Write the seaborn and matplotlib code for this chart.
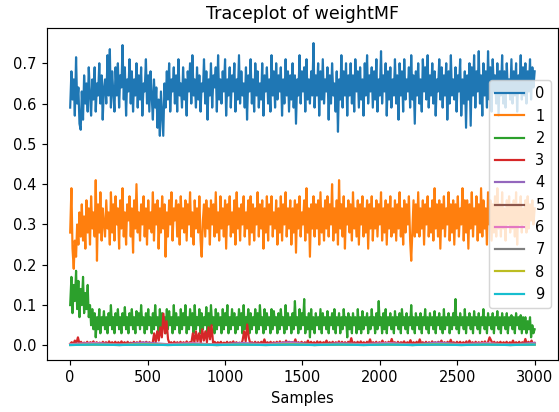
import numpy as np
import matplotlib
matplotlib.use("Agg")
import matplotlib.pyplot as plt
import seaborn as sns

# Posterior draws of weightMF, thinned (each row of ten spans ~75 samples)
weight_0 = [
    0.59, 0.68, 0.61, 0.66, 0.57, 0.715, 0.60, 0.64, 0.55, 0.535,
    0.63, 0.56, 0.67, 0.60, 0.65, 0.58, 0.69, 0.62, 0.57, 0.66,
    0.61, 0.69, 0.58, 0.65, 0.62, 0.70, 0.60, 0.67, 0.56, 0.64,
    0.66, 0.60, 0.72, 0.62, 0.735, 0.59, 0.68, 0.63, 0.58, 0.69,
    0.62, 0.70, 0.59, 0.67, 0.64, 0.745, 0.61, 0.69, 0.57, 0.66,
    0.63, 0.71, 0.60, 0.68, 0.58, 0.66, 0.62, 0.70, 0.59, 0.67,
    0.61, 0.69, 0.57, 0.65, 0.63, 0.71, 0.60, 0.67, 0.58, 0.68,
    0.62, 0.56, 0.66, 0.59, 0.64, 0.54, 0.61, 0.52, 0.63, 0.57,
    0.52, 0.65, 0.59, 0.68, 0.61, 0.70, 0.58, 0.66, 0.63, 0.69,
    0.60, 0.67, 0.58, 0.71, 0.62, 0.65, 0.59, 0.69, 0.61, 0.66,
    0.57, 0.68, 0.63, 0.70, 0.60, 0.72, 0.62, 0.66, 0.59, 0.69,
    0.61, 0.67, 0.58, 0.65, 0.63, 0.71, 0.60, 0.68, 0.56, 0.66,
    0.62, 0.70, 0.59, 0.67, 0.64, 0.69, 0.58, 0.72, 0.61, 0.66,
    0.60, 0.68, 0.63, 0.71, 0.57, 0.66, 0.62, 0.69, 0.59, 0.67,
    0.63, 0.70, 0.58, 0.66, 0.61, 0.72, 0.60, 0.68, 0.62, 0.65,
    0.59, 0.69, 0.56, 0.67, 0.63, 0.71, 0.60, 0.66, 0.58, 0.70,
    0.62, 0.68, 0.59, 0.65, 0.61, 0.70, 0.57, 0.67, 0.63, 0.69,
    0.60, 0.66, 0.58, 0.72, 0.62, 0.68, 0.59, 0.70, 0.61, 0.67,
    0.63, 0.69, 0.57, 0.66, 0.60, 0.71, 0.62, 0.68, 0.58, 0.67,
    0.61, 0.70, 0.59, 0.67, 0.55, 0.66, 0.62, 0.72, 0.60, 0.68,
    0.63, 0.69, 0.58, 0.71, 0.61, 0.66, 0.60, 0.68, 0.62, 0.75,
    0.59, 0.67, 0.62, 0.70, 0.57, 0.68, 0.61, 0.71, 0.60, 0.66,
    0.63, 0.69, 0.56, 0.67, 0.60, 0.70, 0.62, 0.65, 0.58, 0.68,
    0.53, 0.66, 0.61, 0.72, 0.59, 0.68, 0.62, 0.70, 0.57, 0.67,
    0.62, 0.70, 0.60, 0.67, 0.58, 0.71, 0.63, 0.68, 0.59, 0.69,
    0.61, 0.66, 0.57, 0.70, 0.62, 0.72, 0.60, 0.67, 0.63, 0.69,
    0.59, 0.68, 0.61, 0.71, 0.58, 0.66, 0.62, 0.73, 0.60, 0.67,
    0.63, 0.70, 0.57, 0.68, 0.61, 0.69, 0.59, 0.66, 0.62, 0.71,
    0.60, 0.67, 0.56, 0.70, 0.62, 0.68, 0.58, 0.71, 0.61, 0.66,
    0.63, 0.69, 0.59, 0.72, 0.61, 0.67, 0.55, 0.68, 0.62, 0.70,
    0.60, 0.66, 0.58, 0.71, 0.63, 0.69, 0.61, 0.72, 0.59, 0.67,
    0.62, 0.70, 0.60, 0.68, 0.57, 0.66, 0.63, 0.71, 0.61, 0.69,
    0.59, 0.67, 0.62, 0.70, 0.56, 0.68, 0.60, 0.72, 0.62, 0.66,
    0.61, 0.69, 0.58, 0.67, 0.63, 0.71, 0.57, 0.66, 0.60, 0.68,
    0.54, 0.67, 0.61, 0.70, 0.545, 0.69, 0.62, 0.72, 0.59, 0.68,
    0.63, 0.73, 0.60, 0.67, 0.57, 0.70, 0.62, 0.68, 0.59, 0.73,
    0.61, 0.69, 0.58, 0.71, 0.63, 0.67, 0.60, 0.70, 0.57, 0.68,
    0.62, 0.72, 0.60, 0.68, 0.59, 0.70, 0.63, 0.66, 0.61, 0.71,
    0.60, 0.68, 0.62, 0.70, 0.58, 0.67, 0.63, 0.72, 0.61, 0.69,
    0.62, 0.70, 0.60, 0.68, 0.63, 0.71, 0.61, 0.69, 0.64, 0.68,
]

weight_1 = [
    0.28, 0.39, 0.24, 0.19, 0.26, 0.22, 0.30, 0.25, 0.33, 0.27,
    0.35, 0.26, 0.32, 0.24, 0.36, 0.28, 0.34, 0.25, 0.37, 0.29,
    0.33, 0.27, 0.41, 0.21, 0.35, 0.28, 0.38, 0.26, 0.34, 0.30,
    0.27, 0.36, 0.29, 0.33, 0.25, 0.38, 0.28, 0.35, 0.26, 0.37,
    0.30, 0.34, 0.24, 0.36, 0.29, 0.39, 0.27, 0.33, 0.25, 0.35,
    0.31, 0.37, 0.27, 0.34, 0.23, 0.36, 0.29, 0.40, 0.28, 0.33,
    0.26, 0.35, 0.30, 0.37, 0.27, 0.34, 0.25, 0.36, 0.29, 0.33,
    0.28, 0.38, 0.26, 0.35, 0.30, 0.36, 0.24, 0.34, 0.28, 0.37,
    0.29, 0.35, 0.22, 0.33, 0.27, 0.36, 0.30, 0.38, 0.26, 0.34,
    0.31, 0.36, 0.27, 0.35, 0.25, 0.37, 0.29, 0.34, 0.28, 0.36,
    0.26, 0.35, 0.30, 0.38, 0.27, 0.33, 0.25, 0.36, 0.29, 0.34,
    0.28, 0.37, 0.26, 0.22, 0.31, 0.35, 0.27, 0.36, 0.29, 0.34,
    0.25, 0.36, 0.30, 0.35, 0.27, 0.38, 0.28, 0.33, 0.26, 0.37,
    0.29, 0.34, 0.27, 0.36, 0.24, 0.35, 0.30, 0.37, 0.27, 0.33,
    0.28, 0.36, 0.25, 0.38, 0.29, 0.34, 0.26, 0.35, 0.30, 0.37,
    0.27, 0.33, 0.29, 0.36, 0.25, 0.37, 0.28, 0.35, 0.26, 0.34,
    0.30, 0.38, 0.27, 0.35, 0.29, 0.36, 0.24, 0.34, 0.28, 0.37,
    0.26, 0.35, 0.30, 0.37, 0.27, 0.33, 0.29, 0.36, 0.25, 0.34,
    0.28, 0.37, 0.26, 0.35, 0.30, 0.38, 0.27, 0.34, 0.29, 0.36,
    0.25, 0.34, 0.28, 0.36, 0.23, 0.35, 0.29, 0.37, 0.27, 0.33,
    0.30, 0.36, 0.26, 0.39, 0.28, 0.34, 0.22, 0.35, 0.29, 0.37,
    0.27, 0.35, 0.29, 0.36, 0.25, 0.38, 0.28, 0.34, 0.26, 0.36,
    0.29, 0.37, 0.27, 0.35, 0.30, 0.40, 0.26, 0.34, 0.28, 0.36,
    0.25, 0.41, 0.29, 0.35, 0.27, 0.37, 0.24, 0.34, 0.30, 0.36,
    0.28, 0.35, 0.26, 0.38, 0.29, 0.34, 0.27, 0.36, 0.25, 0.35,
    0.30, 0.37, 0.27, 0.34, 0.28, 0.36, 0.24, 0.35, 0.29, 0.37,
    0.26, 0.34, 0.29, 0.36, 0.27, 0.35, 0.30, 0.38, 0.26, 0.34,
    0.28, 0.36, 0.25, 0.35, 0.29, 0.37, 0.27, 0.34, 0.28, 0.36,
    0.26, 0.35, 0.29, 0.38, 0.27, 0.34, 0.25, 0.36, 0.28, 0.35,
    0.30, 0.37, 0.26, 0.21, 0.29, 0.36, 0.27, 0.35, 0.28, 0.38,
    0.27, 0.34, 0.29, 0.36, 0.25, 0.35, 0.30, 0.37, 0.27, 0.34,
    0.28, 0.36, 0.26, 0.39, 0.29, 0.35, 0.27, 0.36, 0.24, 0.35,
    0.29, 0.37, 0.27, 0.34, 0.30, 0.38, 0.26, 0.35, 0.28, 0.36,
    0.25, 0.35, 0.29, 0.37, 0.27, 0.34, 0.30, 0.39, 0.26, 0.36,
    0.28, 0.36, 0.24, 0.35, 0.29, 0.38, 0.27, 0.34, 0.30, 0.37,
    0.26, 0.35, 0.28, 0.39, 0.27, 0.36, 0.29, 0.34, 0.25, 0.38,
    0.30, 0.36, 0.26, 0.35, 0.28, 0.37, 0.27, 0.39, 0.29, 0.35,
    0.27, 0.38, 0.29, 0.34, 0.26, 0.36, 0.30, 0.37, 0.28, 0.35,
    0.29, 0.36, 0.27, 0.38, 0.25, 0.35, 0.30, 0.37, 0.28, 0.34,
    0.30, 0.36, 0.28, 0.37, 0.29, 0.35, 0.31, 0.36, 0.30, 0.34,
]

weight_2 = [
    0.10, 0.17, 0.08, 0.15, 0.11, 0.185, 0.09, 0.16, 0.07, 0.14,
    0.10, 0.17, 0.08, 0.13, 0.09, 0.15, 0.07, 0.10, 0.05, 0.09,
    0.04, 0.08, 0.02, 0.07, 0.04, 0.09, 0.03, 0.07, 0.05, 0.085,
    0.04, 0.07, 0.03, 0.08, 0.05, 0.10, 0.04, 0.07, 0.03, 0.08,
    0.05, 0.09, 0.04, 0.07, 0.03, 0.08, 0.05, 0.095, 0.04, 0.07,
    0.03, 0.08, 0.05, 0.09, 0.04, 0.07, 0.03, 0.085, 0.05, 0.08,
    0.04, 0.10, 0.05, 0.07, 0.03, 0.08, 0.04, 0.09, 0.05, 0.07,
    0.03, 0.08, 0.04, 0.10, 0.05, 0.07, 0.03, 0.09, 0.04, 0.08,
    0.05, 0.07, 0.03, 0.09, 0.04, 0.085, 0.05, 0.07, 0.03, 0.10,
    0.04, 0.08, 0.05, 0.07, 0.03, 0.09, 0.04, 0.08, 0.05, 0.10,
    0.03, 0.07, 0.04, 0.09, 0.05, 0.08, 0.03, 0.10, 0.04, 0.07,
    0.05, 0.09, 0.03, 0.08, 0.04, 0.07, 0.05, 0.095, 0.03, 0.08,
    0.04, 0.10, 0.05, 0.07, 0.03, 0.09, 0.04, 0.08, 0.05, 0.07,
    0.03, 0.09, 0.04, 0.08, 0.05, 0.10, 0.03, 0.07, 0.04, 0.09,
    0.05, 0.08, 0.03, 0.07, 0.04, 0.09, 0.05, 0.08, 0.03, 0.10,
    0.04, 0.07, 0.05, 0.09, 0.03, 0.08, 0.04, 0.07, 0.05, 0.09,
    0.03, 0.08, 0.04, 0.10, 0.05, 0.07, 0.03, 0.09, 0.04, 0.08,
    0.05, 0.07, 0.03, 0.09, 0.04, 0.085, 0.05, 0.07, 0.03, 0.08,
    0.04, 0.09, 0.05, 0.07, 0.03, 0.10, 0.04, 0.08, 0.05, 0.07,
    0.03, 0.08, 0.04, 0.11, 0.05, 0.07, 0.03, 0.09, 0.04, 0.08,
    0.05, 0.115, 0.03, 0.07, 0.04, 0.08, 0.02, 0.09, 0.04, 0.07,
    0.03, 0.08, 0.05, 0.07, 0.04, 0.09, 0.03, 0.08, 0.05, 0.07,
    0.04, 0.085, 0.03, 0.07, 0.05, 0.08, 0.04, 0.09, 0.03, 0.07,
    0.05, 0.08, 0.03, 0.07, 0.04, 0.09, 0.05, 0.07, 0.02, 0.08,
    0.04, 0.07, 0.03, 0.08, 0.05, 0.07, 0.03, 0.09, 0.04, 0.07,
    0.03, 0.085, 0.04, 0.07, 0.05, 0.08, 0.03, 0.07, 0.04, 0.09,
    0.05, 0.07, 0.03, 0.08, 0.04, 0.11, 0.05, 0.07, 0.03, 0.08,
    0.04, 0.09, 0.03, 0.07, 0.05, 0.08, 0.04, 0.07, 0.03, 0.085,
    0.05, 0.07, 0.04, 0.08, 0.03, 0.09, 0.05, 0.07, 0.04, 0.08,
    0.03, 0.07, 0.05, 0.10, 0.04, 0.07, 0.03, 0.08, 0.05, 0.07,
    0.04, 0.08, 0.03, 0.07, 0.05, 0.09, 0.04, 0.07, 0.03, 0.08,
    0.05, 0.07, 0.04, 0.085, 0.03, 0.07, 0.05, 0.08, 0.04, 0.07,
    0.03, 0.09, 0.04, 0.07, 0.05, 0.08, 0.03, 0.07, 0.04, 0.08,
    0.05, 0.115, 0.04, 0.07, 0.03, 0.08, 0.05, 0.07, 0.04, 0.09,
    0.03, 0.07, 0.05, 0.08, 0.04, 0.07, 0.03, 0.085, 0.05, 0.07,
    0.04, 0.08, 0.03, 0.07, 0.05, 0.09, 0.04, 0.07, 0.03, 0.08,
    0.05, 0.07, 0.04, 0.08, 0.03, 0.07, 0.05, 0.085, 0.04, 0.07,
    0.03, 0.08, 0.05, 0.07, 0.04, 0.08, 0.03, 0.07, 0.05, 0.075,
    0.04, 0.07, 0.03, 0.08, 0.05, 0.07, 0.04, 0.075, 0.03, 0.07,
    0.04, 0.07, 0.03, 0.06, 0.04, 0.07, 0.02, 0.05, 0.03, 0.04,
]

weight_3 = [
    0.004, 0.008, 0.003, 0.012, 0.005, 0.02, 0.004, 0.009, 0.003, 0.007,
    0.004, 0.009, 0.003, 0.008, 0.005, 0.01, 0.003, 0.008, 0.004, 0.007,
    0.003, 0.009, 0.004, 0.008, 0.003, 0.01, 0.004, 0.008, 0.003, 0.009,
    0.004, 0.008, 0.003, 0.01, 0.004, 0.008, 0.003, 0.009, 0.004, 0.007,
    0.003, 0.009, 0.004, 0.008, 0.003, 0.01, 0.004, 0.008, 0.003, 0.009,
    0.004, 0.008, 0.003, 0.005, 0.03, 0.008, 0.035, 0.012, 0.045, 0.02,
    0.079, 0.03, 0.06, 0.015, 0.004, 0.008, 0.003, 0.009, 0.004, 0.008,
    0.003, 0.009, 0.004, 0.008, 0.003, 0.01, 0.004, 0.008, 0.005, 0.03,
    0.008, 0.035, 0.01, 0.03, 0.006, 0.04, 0.012, 0.035, 0.008, 0.045,
    0.015, 0.05, 0.004, 0.009, 0.003, 0.008, 0.004, 0.009, 0.003, 0.007,
    0.004, 0.009, 0.003, 0.008, 0.005, 0.01, 0.003, 0.008, 0.004, 0.007,
    0.003, 0.012, 0.035, 0.01, 0.052, 0.02, 0.004, 0.008, 0.003, 0.009,
    0.004, 0.008, 0.003, 0.009, 0.004, 0.015, 0.003, 0.008, 0.004, 0.009,
    0.003, 0.008, 0.004, 0.009, 0.003, 0.01, 0.004, 0.008, 0.003, 0.012,
    0.004, 0.009, 0.003, 0.008, 0.004, 0.015, 0.003, 0.008, 0.004, 0.009,
    0.003, 0.008, 0.004, 0.012, 0.003, 0.009, 0.004, 0.008, 0.003, 0.01,
    0.004, 0.009, 0.003, 0.008, 0.005, 0.012, 0.003, 0.008, 0.004, 0.009,
    0.003, 0.008, 0.004, 0.01, 0.003, 0.009, 0.004, 0.008, 0.003, 0.009,
    0.004, 0.018, 0.003, 0.008, 0.004, 0.009, 0.003, 0.01, 0.004, 0.008,
    0.003, 0.009, 0.004, 0.015, 0.003, 0.008, 0.004, 0.009, 0.003, 0.008,
    0.004, 0.012, 0.003, 0.008, 0.004, 0.009, 0.003, 0.016, 0.004, 0.008,
    0.003, 0.009, 0.004, 0.008, 0.005, 0.01, 0.003, 0.008, 0.004, 0.013,
    0.003, 0.008, 0.004, 0.009, 0.003, 0.015, 0.004, 0.008, 0.003, 0.009,
    0.004, 0.008, 0.003, 0.01, 0.004, 0.008, 0.003, 0.009, 0.004, 0.012,
    0.003, 0.008, 0.004, 0.009, 0.003, 0.014, 0.004, 0.008, 0.003, 0.009,
    0.004, 0.009, 0.003, 0.008, 0.004, 0.01, 0.003, 0.012, 0.004, 0.008,
    0.003, 0.009, 0.004, 0.008, 0.003, 0.009, 0.004, 0.01, 0.003, 0.008,
    0.02, 0.012, 0.004, 0.009, 0.003, 0.008, 0.004, 0.009, 0.003, 0.008,
    0.004, 0.009, 0.003, 0.008, 0.004, 0.012, 0.003, 0.008, 0.004, 0.009,
    0.003, 0.008, 0.004, 0.016, 0.003, 0.009, 0.004, 0.012, 0.003, 0.006,
]

weight_4 = [0.003, 0.006, 0.002, 0.007, 0.003, 0.005, 0.002, 0.006, 0.003, 0.008,
            0.002, 0.005, 0.003, 0.006, 0.002, 0.007, 0.003, 0.005, 0.002, 0.006]
weight_5 = [0.002, 0.004, 0.001, 0.003, 0.002, 0.004, 0.001, 0.003, 0.002, 0.004,
            0.001, 0.003, 0.002, 0.004, 0.001, 0.003, 0.002, 0.004, 0.001, 0.003]
weight_6 = [0.003, 0.005, 0.002, 0.004, 0.003, 0.005, 0.002, 0.004, 0.003, 0.005,
            0.002, 0.004, 0.003, 0.005, 0.002, 0.004, 0.003, 0.005, 0.002, 0.004]
weight_7 = [0.001, 0.002, 0.001, 0.002, 0.001, 0.002, 0.001, 0.002, 0.001, 0.002,
            0.001, 0.002, 0.001, 0.002, 0.001, 0.002, 0.001, 0.002, 0.001, 0.002]
weight_8 = [0.001, 0.002, 0.001, 0.003, 0.001, 0.002, 0.001, 0.002, 0.001, 0.003,
            0.001, 0.002, 0.001, 0.002, 0.001, 0.003, 0.001, 0.002, 0.001, 0.002]
weight_9 = [0.001, 0.002, 0.001, 0.002, 0.001, 0.002, 0.001, 0.002, 0.001, 0.002,
            0.001, 0.002, 0.001, 0.002, 0.001, 0.002, 0.001, 0.002, 0.001, 0.002]

series = [weight_0, weight_1, weight_2, weight_3, weight_4,
          weight_5, weight_6, weight_7, weight_8, weight_9]
labels = [str(k) for k in range(len(series))]
n_samples = 3000

palette = sns.color_palette("tab10", 10)

DPI = 105
fig, ax = plt.subplots(figsize=(559 / DPI, 412 / DPI), dpi=DPI)
fig.subplots_adjust(left=0.084, right=0.998, top=0.932, bottom=0.126)

for vals, lab, col in zip(series, labels, palette):
    x = np.round(np.linspace(0, n_samples - 1, len(vals)))
    sns.lineplot(x=x, y=vals, ax=ax, color=col, label=lab, linewidth=1.5)

ax.set_title("Traceplot of weightMF")
ax.set_xlabel("Samples")
ax.set_ylabel("")
ax.legend(loc="center right")

fig.savefig("out.png", dpi=DPI)
